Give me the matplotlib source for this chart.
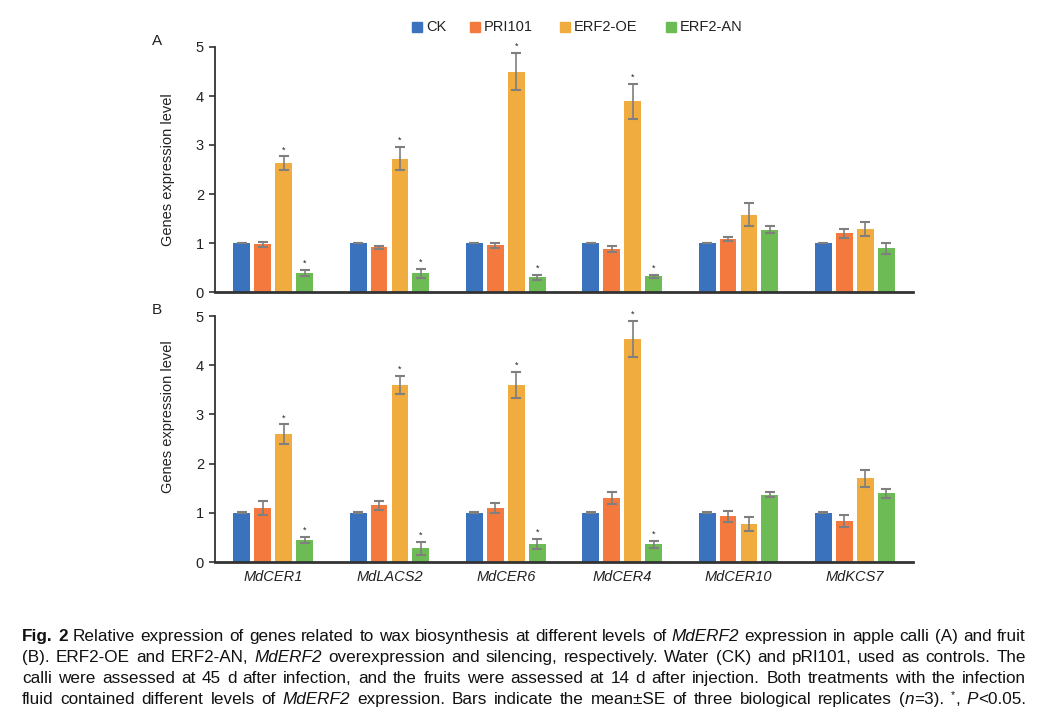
import matplotlib
matplotlib.use("Agg")
import matplotlib.pyplot as plt
from matplotlib import font_manager
from matplotlib.patches import Rectangle
import numpy as np

# ---------------- data ----------------
genes = ["MdCER1", "MdLACS2", "MdCER6", "MdCER4", "MdCER10", "MdKCS7"]
series = ["CK", "PRI101", "ERF2-OE", "ERF2-AN"]
colors = ["#3A72BD", "#F4793F", "#F0AC3E", "#6DBB54"]

# Panel A (apple calli)
A_ck = [1.00, 1.00, 1.00, 1.00, 1.00, 1.00]
A_pri = [0.97, 0.91, 0.95, 0.88, 1.09, 1.20]
A_oe = [2.63, 2.72, 4.50, 3.89, 1.58, 1.29]
A_an = [0.39, 0.38, 0.30, 0.32, 1.27, 0.89]
A_ck_se = [0.01, 0.01, 0.01, 0.01, 0.01, 0.01]
A_pri_se = [0.05, 0.03, 0.06, 0.06, 0.04, 0.09]
A_oe_se = [0.14, 0.24, 0.38, 0.36, 0.24, 0.14]
A_an_se = [0.06, 0.09, 0.05, 0.03, 0.07, 0.12]
A_sig_oe = [True, True, True, True, False, False]
A_sig_an = [True, True, True, True, False, False]

# Panel B (fruit)
B_ck = [1.00, 1.00, 1.00, 1.00, 1.00, 1.00]
B_pri = [1.10, 1.15, 1.10, 1.30, 0.93, 0.83]
B_oe = [2.60, 3.60, 3.60, 4.53, 0.78, 1.70]
B_an = [0.45, 0.28, 0.37, 0.36, 1.37, 1.40]
B_ck_se = [0.01, 0.01, 0.01, 0.01, 0.01, 0.01]
B_pri_se = [0.15, 0.09, 0.10, 0.12, 0.11, 0.12]
B_oe_se = [0.20, 0.19, 0.27, 0.37, 0.14, 0.17]
B_an_se = [0.06, 0.13, 0.10, 0.07, 0.05, 0.09]
B_sig_oe = [True, True, True, True, False, False]
B_sig_an = [True, True, True, True, False, False]

yticks = [0, 1, 2, 3, 4, 5]
ylabel = "Genes expression level"

caption = [
    [("Fig. 2", "b"), (" Relative expression of genes related to wax biosynthesis at different levels of ", "n"),
     ("MdERF2", "i"), (" expression in apple calli (A) and fruit", "n")],
    [("(B).  ERF2-OE and ERF2-AN, ", "n"), ("MdERF2", "i"),
     (" overexpression and silencing, respectively.  Water (CK) and pRI101, used as controls.  The", "n")],
    [("calli were assessed at 45 d after infection, and the fruits were assessed at 14 d after injection.  Both treatments with the infection", "n")],
    [("fluid contained different levels of ", "n"), ("MdERF2", "i"),
     (" expression.  Bars indicate the mean\u00b1SE of three biological replicates (", "n"), ("n", "i"),
     ("=3).  ", "n"), ("*", "sup"), (", ", "n"), ("P", "i"), ("<0.05.", "n")],
]

# ---------------- style ----------------
names = {f.name for f in font_manager.fontManager.ttflist}
base_font = "Liberation Sans"
cap_font = "Liberation Sans Narrow" if "Liberation Sans Narrow" in names else "Liberation Sans"
plt.rcParams["font.family"] = [base_font, "DejaVu Sans"]

W, H = 1045, 721
fig = plt.figure(figsize=(W / 100, H / 100), dpi=100)

x_left, x_right = 215, 913
panels = [
    dict(y0=292, y5=47, vals=[A_ck, A_pri, A_oe, A_an], ses=[A_ck_se, A_pri_se, A_oe_se, A_an_se],
         sig=[None, None, A_sig_oe, A_sig_an], label="A", xt=False, ylab_y=0.50),
    dict(y0=562, y5=316, vals=[B_ck, B_pri, B_oe, B_an], ses=[B_ck_se, B_pri_se, B_oe_se, B_an_se],
         sig=[None, None, B_sig_oe, B_sig_an], label="B", xt=True, ylab_y=0.59),
]

axis_col = "#333333"
x = np.arange(len(genes))
step = 0.18
bw = 0.145

for p in panels:
    ax = fig.add_axes([x_left / W, 1 - p["y0"] / H, (x_right - x_left) / W, (p["y0"] - p["y5"]) / H])
    for j, (vals, ses, col) in enumerate(zip(p["vals"], p["ses"], colors)):
        pos = x + (j - 1.5) * step
        ax.bar(pos, vals, width=bw, color=col, edgecolor="none", zorder=2)
        ax.errorbar(pos, vals, yerr=ses, fmt="none", ecolor="#7F7F7F", elinewidth=1.2,
                    capsize=3.5, capthick=1.5, zorder=3)
        if p["sig"][j] is not None:
            for k in range(len(genes)):
                if p["sig"][j][k]:
                    ax.text(pos[k], vals[k] + ses[k] + 0.13, "*", ha="center", va="center",
                            fontsize=6.5, color="#222222")
    ax.set_xlim(-0.5, len(genes) - 0.5)
    ax.set_ylim(0, 5)
    ax.set_yticks(yticks)
    ax.set_yticklabels([str(t) for t in yticks], fontsize=10.5, color="#222222")
    ax.tick_params(axis="y", length=4, width=1.2, color=axis_col, pad=4)
    ax.tick_params(axis="x", length=0, pad=6)
    if p["xt"]:
        ax.set_xticks(x)
        ax.set_xticklabels(genes, fontsize=10.5, style="italic", color="#222222")
    else:
        ax.set_xticks([])
    for s in ["top", "right"]:
        ax.spines[s].set_visible(False)
    ax.spines["left"].set_color(axis_col)
    ax.spines["left"].set_linewidth(1.3)
    ax.spines["bottom"].set_color(axis_col)
    ax.spines["bottom"].set_linewidth(2.0)
    ax.set_ylabel(ylabel, fontsize=10.5, color="#222222")
    ax.yaxis.set_label_coords((175 - x_left) / (x_right - x_left), p["ylab_y"])
    ax.patch.set_alpha(0)
    fig.text(152 / W, 1 - (p["y5"] - 6) / H, p["label"], fontsize=11, ha="left", va="center",
             color="#222222")

# ---------------- legend ----------------
leg_x = [412, 470, 560, 666]
leg_y = 27
for lx, name, col in zip(leg_x, series, colors):
    fig.patches.append(Rectangle((lx / W, 1 - (leg_y + 5) / H), 10 / W, 10 / H,
                                 transform=fig.transFigure, color=col, figure=fig))
    fig.text((lx + 14) / W, 1 - leg_y / H, name, fontsize=10.5, ha="left", va="center",
             color="#222222")

# ---------------- caption (justified) ----------------
renderer = fig.canvas.get_renderer()
cap_size = 12.3
cap_left, cap_right = 22, 1026
line_base = [641, 662, 683, 704]


def props(style):
    d = dict(fontsize=cap_size, family=[cap_font, "DejaVu Sans"], color="#111111")
    if style == "b":
        d["weight"] = "bold"
    if style == "i":
        d["style"] = "italic"
    if style == "sup":
        d["fontsize"] = cap_size * 0.6
    return d


def split_words(segments):
    words = [[]]
    for txt, st in segments:
        parts = txt.split(" ")
        for i, part in enumerate(parts):
            if i > 0:
                words.append([])
            if part:
                words[-1].append((part, st))
    return [w for w in words if w]


def width_of(txt, st):
    t = fig.text(0, 0, txt, **props(st))
    w = t.get_window_extent(renderer).width
    t.remove()
    return w


for segs, ly in zip(caption, line_base):
    words = split_words(segs)
    widths = [[width_of(t, s) for t, s in w] for w in words]
    total = sum(sum(ws) for ws in widths)
    gap = (cap_right - cap_left - total) / max(len(words) - 1, 1)
    cx = cap_left
    for w, ws in zip(words, widths):
        for (t, s), wd in zip(w, ws):
            yy = ly - 6 if s == "sup" else ly
            fig.text(cx / W, 1 - yy / H, t, ha="left", va="baseline", **props(s))
            cx += wd
        cx += gap

fig.savefig("out.png", dpi=100)
